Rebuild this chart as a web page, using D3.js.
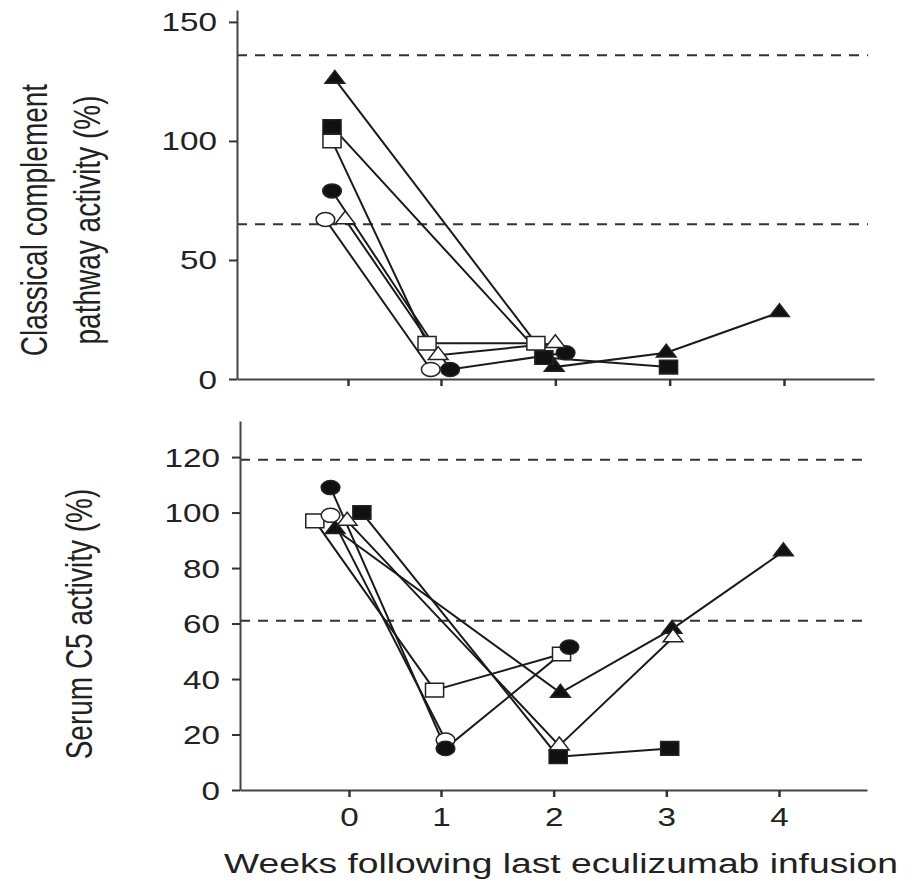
<!DOCTYPE html>
<html>
<head>
<meta charset="utf-8">
<script src="https://cdn.jsdelivr.net/npm/d3@7"></script>
<style>
  body { margin: 0; background: #fff; }
  text { font-family: "Liberation Sans", Arial, Helvetica, sans-serif; fill: #222; }
</style>
</head>
<body>
<div id="chart"></div>
<script>
// [week, %] pairs; week 0 points sit a bit left of the tick
// top panel: classical complement pathway activity
const cpFilledTri  = [[-0.14, 126], [1.99, 5], [2.97, 11], [3.96, 28]];
const cpFilledSq   = [[-0.17, 106], [1.90, 9], [2.99, 5]];
const cpOpenSq     = [[-0.17, 100], [0.85, 15], [1.83, 15]];
const cpFilledCirc = [[-0.17, 79], [1.08, 4], [2.09, 11]];
const cpOpenCirc   = [[-0.24, 67], [0.89, 4]];
const cpOpenTri    = [[-0.03, 67], [0.97, 10], [2.00, 15]];

// bottom panel: serum C5 activity
const c5FilledCirc = [[-0.20, 109], [1.04, 15], [2.14, 51.5]];
const c5OpenCirc   = [[-0.20, 99], [1.04, 18]];
const c5OpenSq     = [[-0.37, 97], [0.93, 36], [2.07, 49]];
const c5OpenTri    = [[-0.02, 97], [2.05, 16], [3.06, 55]];
const c5FilledSq   = [[0.14, 100], [2.04, 12], [3.03, 15]];
const c5FilledTri  = [[-0.15, 94], [2.06, 35], [3.05, 58], [4.04, 86]];

const weekTicks = [0, 1, 2, 3, 4];
const cpTicks = [0, 50, 100, 150];
const c5Ticks = [0, 20, 40, 60, 80, 100, 120];
const cpRefLines = [136, 65];
const c5RefLines = [119, 61];

const W = 913, H = 881;
const SX = 1.33; // the original figure is stretched sideways

const svg = d3.select('#chart').append('svg')
  .attr('width', W).attr('height', H);

// x axis of the original is uneven between 0 and 1, so use a piecewise scale
const xDomain = [-1.18, 0, 1, 4, 4.79];

function drawPanel(p) {
  const x = d3.scaleLinear().domain(xDomain).range(p.xRange);
  const y = d3.scaleLinear().domain(p.yDomain).range([p.bottom, p.top]);
  const g = svg.append('g');

  // reference range lines
  g.selectAll('.ref').data(p.refs).enter().append('line')
    .attr('x1', p.xRange[0]).attr('x2', p.refEnd)
    .attr('y1', d => y(d)).attr('y2', d => y(d))
    .attr('stroke', '#333').attr('stroke-width', 2)
    .attr('stroke-dasharray', '10,8');

  // y axis
  const ya = g.append('g')
    .attr('transform', `translate(${p.xRange[0]},0)`)
    .call(d3.axisLeft(y).tickValues(p.yTicks).tickSize(8).tickSizeOuter(0));
  ya.select('.domain').attr('stroke', '#444').attr('stroke-width', 2);
  ya.selectAll('.tick line').attr('stroke', '#333').attr('stroke-width', 2);
  ya.selectAll('.tick text')
    .attr('x', 0).attr('dy', 0).attr('y', 0)
    .attr('font-size', 25).attr('font-family', null)
    .attr('transform', `translate(-20,9) scale(${SX},1)`);

  // x axis
  const xa = g.append('g')
    .attr('transform', `translate(0,${p.bottom})`)
    .call(d3.axisBottom(x).tickValues(weekTicks).tickFormat(d3.format('d'))
      .tickSize(7).tickSizeOuter(0));
  xa.select('.domain').attr('stroke', '#444').attr('stroke-width', 2);
  xa.selectAll('.tick line').attr('stroke', '#333').attr('stroke-width', 2.5);
  if (p.xLabels) {
    xa.selectAll('.tick text')
      .attr('dy', 0).attr('y', 0)
      .attr('font-size', 25).attr('font-family', null)
      .attr('transform', `translate(0,36) scale(${SX},1)`);
  } else {
    xa.selectAll('.tick text').remove();
  }

  // y title (rotated, one or two lines)
  p.title.forEach((t, i) => {
    g.append('text')
      .attr('text-anchor', 'middle')
      .attr('font-size', 28)
      .attr('transform', `translate(${p.titleX[i]},${p.titleY}) scale(${SX},1) rotate(-90)`)
      .text(t);
  });

  const line = d3.line().x(d => x(d[0])).y(d => y(d[1]));

  // connecting lines first
  g.selectAll('.series').data(p.series).enter().append('path')
    .attr('d', d => line(d.pts))
    .attr('fill', 'none')
    .attr('stroke', '#1a1a1a')
    .attr('stroke-width', 2);

  // then markers
  p.series.forEach(s => {
    const sym = d3.symbol().type(s.shape).size(s.size);
    g.selectAll(null).data(s.pts).enter().append('path')
      .attr('d', sym)
      .attr('transform', d => `translate(${x(d[0])},${y(d[1])}) scale(${SX},1)`)
      .attr('fill', s.filled ? '#111' : '#fff')
      .attr('stroke', '#222')
      .attr('stroke-width', 1.5)
      .attr('vector-effect', 'non-scaling-stroke');
  });
}

const tri = d3.symbolTriangle, sq = d3.symbolSquare, circ = d3.symbolCircle;

drawPanel({
  xRange: [237, 348, 441, 784, 874],
  refEnd: 868,
  yDomain: [0, 155],
  top: 10, bottom: 379,
  yTicks: cpTicks,
  refs: cpRefLines,
  xLabels: false,
  title: ['Classical complement', 'pathway activity (%)'],
  titleX: [47, 100], titleY: 220,
  series: [
    { pts: cpFilledTri,  shape: tri,  size: 95,  filled: true },
    { pts: cpFilledSq,   shape: sq,   size: 185, filled: true },
    { pts: cpOpenSq,     shape: sq,   size: 185, filled: false },
    { pts: cpFilledCirc, shape: circ, size: 155, filled: true },
    { pts: cpOpenCirc,   shape: circ, size: 155, filled: false },
    { pts: cpOpenTri,    shape: tri,  size: 95,  filled: false }
  ]
});

drawPanel({
  xRange: [240, 349, 441, 779, 867],
  refEnd: 868,
  yDomain: [0, 133],
  top: 421, bottom: 790,
  yTicks: c5Ticks,
  refs: c5RefLines,
  xLabels: true,
  title: ['Serum C5 activity (%)'],
  titleX: [92], titleY: 624,
  series: [
    { pts: c5FilledTri,  shape: tri,  size: 95,  filled: true },
    { pts: c5OpenTri,    shape: tri,  size: 95,  filled: false },
    { pts: c5FilledSq,   shape: sq,   size: 185, filled: true },
    { pts: c5OpenSq,     shape: sq,   size: 185, filled: false },
    { pts: c5OpenCirc,   shape: circ, size: 155, filled: false },
    { pts: c5FilledCirc, shape: circ, size: 155, filled: true }
  ]
});

// x axis title
svg.append('text')
  .attr('text-anchor', 'middle')
  .attr('font-size', 28)
  .attr('transform', `translate(561,873) scale(${SX},1)`)
  .text('Weeks following last eculizumab infusion');
</script>
</body>
</html>
